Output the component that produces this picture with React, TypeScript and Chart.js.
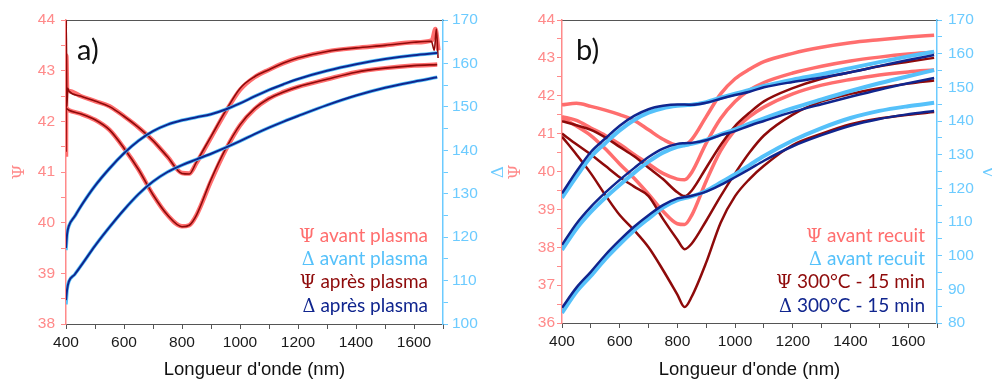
import React, { useEffect, useRef } from "react";
import { Chart, registerables } from "chart.js";
Chart.register(...registerables);

// ---------- Panel a) data ----------
const L_WL = [400, 410, 450, 500, 550, 600, 650, 700, 750, 800, 825, 850, 900, 950, 1000, 1050, 1100, 1150, 1200, 1300, 1400, 1500, 1600, 1680];
const L_DEL_WL = [400, 404, 410, 430, 460, 500, 550, 600, 650, 700, 750, 800, 850, 900, 950, 1000, 1050, 1100, 1150, 1200, 1300, 1400, 1500, 1600, 1680];

const L_PSI_AV_1_WL = [400, 401, 404, 410, 450, 500, 550, 600, 650, 700, 750, 800, 825, 850, 900, 950, 1000, 1050, 1100, 1150, 1200, 1300, 1400, 1500, 1600, 1662, 1674, 1684];
const L_PSI_AV_1 = [41.3, 43.3, 42.62, 42.6, 42.5, 42.4, 42.3, 42.1, 41.88, 41.62, 41.3, 40.98, 40.97, 41.18, 41.68, 42.18, 42.62, 42.87, 43.02, 43.15, 43.25, 43.38, 43.45, 43.5, 43.56, 43.6, 43.82, 43.4];
const L_PSI_AP_1_WL = [400, 401, 403, 406, 410, 450, 500, 550, 600, 650, 700, 750, 800, 825, 850, 900, 950, 1000, 1050, 1100, 1150, 1200, 1300, 1400, 1500, 1600, 1660, 1670, 1677, 1683];
const L_PSI_AP_1 = [41.4, 44.0, 42.3, 42.65, 42.6, 42.5, 42.4, 42.29, 42.1, 41.88, 41.62, 41.3, 40.97, 40.96, 41.2, 41.7, 42.2, 42.65, 42.88, 43.02, 43.15, 43.25, 43.38, 43.45, 43.5, 43.56, 43.58, 43.4, 43.82, 43.25];
const L_PSI_AV_2 = [42.26, 42.22, 42.15, 42.03, 41.83, 41.47, 41.05, 40.55, 40.15, 39.93, 39.95, 40.15, 40.82, 41.43, 41.92, 42.24, 42.45, 42.58, 42.68, 42.83, 42.97, 43.05, 43.1, 43.12];
const L_PSI_AP_2 = [42.26, 42.22, 42.15, 42.03, 41.83, 41.47, 41.05, 40.55, 40.15, 39.92, 39.95, 40.15, 40.85, 41.45, 41.93, 42.25, 42.45, 42.58, 42.68, 42.83, 42.97, 43.05, 43.1, 43.12];
const L_DEL_AV_1 = [117, 120.8, 122.6, 124.8, 128.0, 131.8, 135.8, 139.3, 142.2, 144.4, 145.9, 146.9, 147.6, 148.3, 149.4, 150.8, 152.4, 153.9, 155.2, 156.4, 158.3, 159.8, 161.0, 161.9, 162.4];
const L_DEL_AP_1 = [117.5, 120.8, 122.6, 124.8, 128.0, 131.8, 135.8, 139.3, 142.2, 144.4, 145.9, 146.9, 147.6, 148.3, 149.4, 150.8, 152.4, 153.9, 155.2, 156.4, 158.3, 159.8, 161.0, 161.9, 162.4];
const L_DEL_AV_2 = [104.5, 108, 109.8, 111.4, 114.2, 118.0, 122.3, 126.3, 129.9, 132.8, 135.0, 136.6, 137.9, 139.2, 140.6, 142.1, 143.7, 145.2, 146.6, 147.9, 150.4, 152.6, 154.4, 155.8, 156.8];
const L_DEL_AP_2 = [105.5, 108, 109.8, 111.4, 114.2, 118.0, 122.3, 126.3, 129.9, 132.8, 135.0, 136.6, 137.9, 139.2, 140.6, 142.1, 143.7, 145.2, 146.6, 147.9, 150.4, 152.6, 154.4, 155.8, 156.8];

// ---------- Panel b) data ----------
const R_WL = [400, 450, 500, 550, 600, 650, 700, 750, 800, 825, 850, 900, 950, 1000, 1050, 1100, 1200, 1300, 1400, 1500, 1600, 1690];

const R_PSI_AV_A = [41.76, 41.8, 41.72, 41.62, 41.5, 41.35, 41.1, 40.85, 40.7, 40.7, 40.85, 41.45, 42.05, 42.45, 42.7, 42.9, 43.12, 43.28, 43.4, 43.48, 43.55, 43.6];
const R_PSI_AV_B = [41.45, 41.35, 41.15, 40.95, 40.72, 40.45, 40.2, 39.95, 39.8, 39.78, 39.98, 40.75, 41.4, 41.85, 42.15, 42.35, 42.6, 42.78, 42.92, 43.02, 43.1, 43.15];
const R_PSI_AV_C = [41.42, 41.2, 40.95, 40.6, 40.2, 39.82, 39.4, 38.95, 38.62, 38.6, 38.85, 39.75, 40.55, 41.1, 41.45, 41.7, 42.05, 42.28, 42.43, 42.55, 42.63, 42.68];
const R_PSI_300_A = [41.33, 41.22, 41.1, 40.9, 40.65, 40.4, 40.1, 39.8, 39.45, 39.35, 39.5, 40.1, 40.7, 41.2, 41.55, 41.85, 42.2, 42.45, 42.62, 42.78, 42.9, 43.0];
const R_PSI_300_B = [41.0, 40.72, 40.45, 40.15, 39.85, 39.6, 39.35, 38.75, 38.2, 37.95, 38.1, 38.7, 39.35, 39.95, 40.5, 40.95, 41.5, 41.85, 42.05, 42.2, 42.32, 42.4];
const R_PSI_300_C = [40.92, 40.45, 39.95, 39.38, 38.85, 38.45, 38.0, 37.4, 36.75, 36.42, 36.7, 37.6, 38.65, 39.35, 39.8, 40.15, 40.7, 41.0, 41.25, 41.4, 41.5, 41.57];
const R_DEL_AV_A = [117.2, 123.5, 129.3, 133.4, 137.2, 140.3, 142.5, 143.8, 144.5, 144.7, 144.8, 145.6, 146.9, 148.1, 149.2, 150.4, 152.3, 153.9, 155.7, 157.5, 159.2, 160.6];
const R_DEL_AV_B = [101.7, 108, 113, 117.2, 121, 124.6, 127.9, 130.6, 132.3, 132.8, 133.2, 134.4, 136, 137.5, 139.2, 140.8, 143.8, 146.4, 148.9, 151.2, 153.3, 155.1];
const R_DEL_AV_C = [83, 89.3, 94, 99, 103.4, 107.5, 111, 114.3, 116.5, 117.1, 117.6, 119.3, 121.7, 124.2, 126.9, 129.6, 134.2, 137.9, 140.9, 143, 144.4, 145.4];
const R_DEL_300_A = [118.5, 125, 130.8, 134.8, 138.6, 141.5, 143.5, 144.5, 144.9, 144.9, 144.8, 145.4, 146.6, 147.7, 148.7, 150, 151.6, 152.9, 154.5, 156.3, 158.1, 159.6];
const R_DEL_300_B = [103.2, 109.5, 114.5, 118.7, 122.5, 126, 129.3, 131.8, 133.2, 133.4, 133.5, 134.3, 135.8, 137, 138.6, 140, 142.7, 145, 147.2, 149.3, 151.2, 152.8];
const R_DEL_300_C = [84.5, 90.5, 95.2, 100.2, 104.6, 108.6, 112, 115, 117, 117.4, 117.8, 119, 121, 123.3, 125.7, 128.2, 132.5, 135.8, 138.6, 140.6, 142, 143];

const X_LABELS = [400, 600, 800, 1000, 1200, 1400, 1600];
const LEFT_LEGEND = ["avant plasma", "avant plasma", "après plasma", "après plasma"];
const RIGHT_LEGEND = ["avant recuit", "avant recuit", "300°C - 15 min", "300°C - 15 min"];

// ---------- styles ----------
const C_LRED = "#FF6E6E";
const C_DRED = "#8E0A0A";
const C_LBLUE = "#55C1FA";
const C_DBLUE = "#10258E";
const C_AX_RED = "#FF8A8A";
const C_AX_BLUE = "#6CCBFF";
const TICK_FONT = { family: "'Liberation Sans', Arial, sans-serif", size: 15.5 };

function pts(wl: number[], v: number[]) {
  return wl.map((x, i) => ({ x, y: v[i] }));
}
function ds(wl: number[], v: number[], color: string, width: number, axis: string, order: number) {
  return {
    data: pts(wl, v),
    borderColor: color,
    borderWidth: width,
    pointRadius: 0,
    cubicInterpolationMode: "monotone",
    borderJoinStyle: "round",
    yAxisID: axis,
    order,
    fill: false,
  };
}

type PanelProps = {
  datasets: any[];
  psi: [number, number];
  del: [number, number];
  leftW: number;
  rightW: number;
  bottomH: number;
  yPad: number;
  y2Pad: number;
};

function Panel(p: PanelProps) {
  const ref = useRef<HTMLCanvasElement | null>(null);
  useEffect(() => {
    if (!ref.current) return;
    const chart = new Chart(ref.current, {
      type: "line",
      data: { datasets: p.datasets },
      options: {
        animation: false,
        responsive: false,
        maintainAspectRatio: false,
        layout: { padding: { top: 20, left: 0, right: 0, bottom: 0 } },
        plugins: { legend: { display: false }, tooltip: { enabled: false } },
        scales: {
          x: {
            type: "linear",
            position: "bottom",
            min: 400,
            max: 1700,
            ticks: {
              stepSize: 100,
              autoSkip: false,
              maxRotation: 0,
              padding: 4,
              color: "#1a1a1a",
              font: TICK_FONT,
              callback: (v: any) => (X_LABELS.includes(Number(v)) ? String(v) : ""),
            },
            grid: { drawOnChartArea: false, drawTicks: true, tickLength: 5, tickColor: "#555" },
            border: { color: "#555", width: 1 },
            title: {
              display: true,
              text: "Longueur d'onde (nm)",
              color: "#111",
              font: { family: "'Liberation Sans', Arial, sans-serif", size: 18.5, lineHeight: 1 },
              padding: { top: 0, bottom: 1 },
            },
            afterFit: (s: any) => {
              s.height = p.bottomH;
            },
          },
          xTop: {
            type: "linear",
            position: "top",
            min: 400,
            max: 1700,
            ticks: { display: false },
            grid: { display: false },
            border: { color: "#555", width: 1 },
            afterFit: (s: any) => {
              s.height = 0;
            },
          },
          y: {
            position: "left",
            min: p.psi[0],
            max: p.psi[1],
            ticks: {
              stepSize: 0.5,
              autoSkip: false,
              padding: p.yPad,
              color: C_AX_RED,
              font: TICK_FONT,
              callback: (v: any) => (Number.isInteger(Number(v)) ? String(v) : ""),
            },
            grid: { drawOnChartArea: false, drawTicks: true, tickLength: 5, tickColor: C_AX_RED },
            border: { color: C_AX_RED, width: 1.5 },
            afterFit: (s: any) => {
              s.width = p.leftW;
            },
          },
          y2: {
            position: "right",
            min: p.del[0],
            max: p.del[1],
            ticks: {
              stepSize: 5,
              autoSkip: false,
              padding: p.y2Pad,
              color: C_AX_BLUE,
              font: TICK_FONT,
              callback: (v: any) => (Number(v) % 10 === 0 ? String(v) : ""),
            },
            grid: { drawOnChartArea: false, drawTicks: true, tickLength: 5, tickColor: C_AX_BLUE },
            border: { color: C_AX_BLUE, width: 1.5 },
            afterFit: (s: any) => {
              s.width = p.rightW;
            },
          },
        },
      } as any,
    });
    return () => chart.destroy();
  }, []);
  return <canvas ref={ref} width={496} height={380} style={{ display: "block", width: 496, height: 380 }} />;
}

const LEG_FONT = "Lato, 'Open Sans', sans-serif";
const SYM_FONT = "'DejaVu Serif', 'Liberation Serif', serif";

function Legend({ x, items }: { x: number; items: string[] }) {
  const colors = [C_LRED, C_LBLUE, C_DRED, C_DBLUE];
  const syms = ["Ψ", "Δ", "Ψ", "Δ"];
  const ys = [235, 258, 281, 305];
  return (
    <>
      {items.map((t, i) => (
        <div
          key={i}
          style={{
            position: "absolute",
            right: 992 - x,
            top: ys[i],
            transform: "translateY(-50%)",
            whiteSpace: "nowrap",
            color: colors[i],
            fontFamily: LEG_FONT,
            fontSize: 19,
            lineHeight: "22px",
          }}
        >
          <span style={{ fontFamily: SYM_FONT, fontSize: 18 }}>{syms[i]}</span> {t}
        </div>
      ))}
    </>
  );
}

function VTitle({ x, y, text, color }: { x: number; y: number; text: string; color: string }) {
  return (
    <div
      style={{
        position: "absolute",
        left: x,
        top: y,
        transform: "translate(-50%, -50%) rotate(-90deg)",
        color,
        fontFamily: SYM_FONT,
        fontSize: 17,
        lineHeight: "20px",
      }}
    >
      {text}
    </div>
  );
}

export default function App() {
  const leftSets = [
    ds(L_DEL_WL, L_DEL_AP_1, C_DBLUE, 2, "y2", 0),
    ds(L_DEL_WL, L_DEL_AP_2, C_DBLUE, 2, "y2", 0),
    ds(L_DEL_WL, L_DEL_AV_1, C_LBLUE, 3.5, "y2", 1),
    ds(L_DEL_WL, L_DEL_AV_2, C_LBLUE, 3.5, "y2", 1),
    ds(L_PSI_AP_1_WL, L_PSI_AP_1, C_DRED, 1.6, "y", 2),
    ds(L_WL, L_PSI_AP_2, C_DRED, 1.6, "y", 2),
    ds(L_PSI_AV_1_WL, L_PSI_AV_1, C_LRED, 4.5, "y", 3),
    ds(L_WL, L_PSI_AV_2, C_LRED, 4.5, "y", 3),
  ];
  const rightSets = [
    ds(R_WL, R_DEL_300_A, C_DBLUE, 2.5, "y2", 0),
    ds(R_WL, R_DEL_300_B, C_DBLUE, 2.5, "y2", 0),
    ds(R_WL, R_DEL_300_C, C_DBLUE, 2.5, "y2", 0),
    ds(R_WL, R_DEL_AV_A, C_LBLUE, 4, "y2", 1),
    ds(R_WL, R_DEL_AV_B, C_LBLUE, 4, "y2", 1),
    ds(R_WL, R_DEL_AV_C, C_LBLUE, 4, "y2", 1),
    ds(R_WL, R_PSI_300_A, C_DRED, 2.5, "y", 2),
    ds(R_WL, R_PSI_300_B, C_DRED, 2.5, "y", 2),
    ds(R_WL, R_PSI_300_C, C_DRED, 2.5, "y", 2),
    ds(R_WL, R_PSI_AV_A, C_LRED, 3.5, "y", 3),
    ds(R_WL, R_PSI_AV_B, C_LRED, 3.5, "y", 3),
    ds(R_WL, R_PSI_AV_C, C_LRED, 3.5, "y", 3),
  ];
  return (
    <div style={{ position: "fixed", left: 0, top: 0, width: 992, height: 380, background: "#fff", overflow: "hidden" }}>
      <div style={{ position: "absolute", left: 0, top: 0 }}>
        <Panel datasets={leftSets} psi={[38, 44]} del={[100, 170]} leftW={66} rightW={53} bottomH={56} yPad={6} y2Pad={4} />
      </div>
      <div style={{ position: "absolute", left: 496, top: 0 }}>
        <Panel datasets={rightSets} psi={[36, 44]} del={[80, 170]} leftW={66} rightW={55} bottomH={57} yPad={2} y2Pad={6} />
      </div>
      <div style={{ position: "absolute", left: 77, top: 48, transform: "translateY(-50%)", fontFamily: LEG_FONT, fontSize: 29, color: "#111" }}>a)</div>
      <div style={{ position: "absolute", left: 576, top: 48, transform: "translateY(-50%)", fontFamily: LEG_FONT, fontSize: 29, color: "#111" }}>b)</div>
      <VTitle x={18} y={172} text="Ψ" color={C_AX_RED} />
      <VTitle x={497} y={172} text="Δ" color={C_AX_BLUE} />
      <VTitle x={514} y={172} text="Ψ" color={C_AX_RED} />
      <VTitle x={989} y={172} text="Δ" color={C_AX_BLUE} />
      <Legend x={428} items={LEFT_LEGEND} />
      <Legend x={925} items={RIGHT_LEGEND} />
    </div>
  );
}
